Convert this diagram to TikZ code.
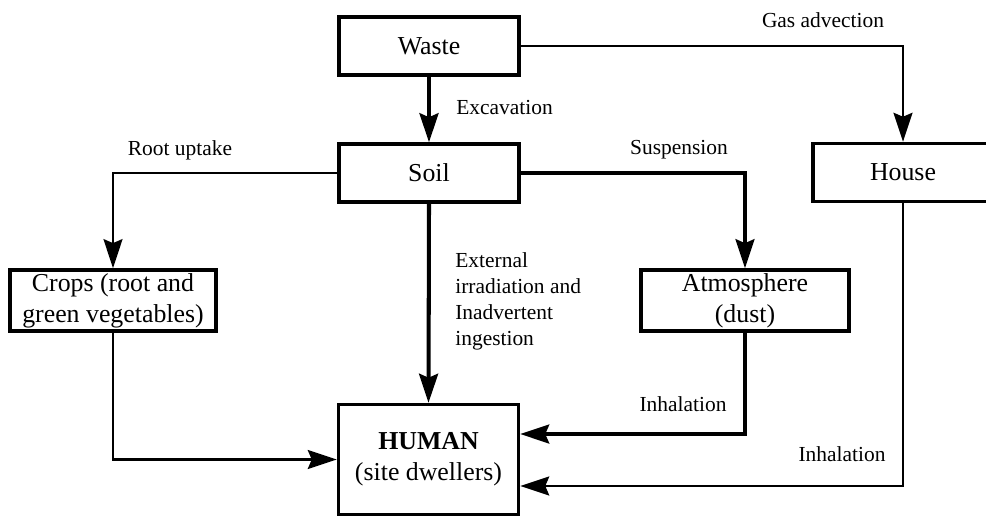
\documentclass[tikz,border=0pt]{standalone}
\usepackage{fontspec}
\setmainfont{Liberation Serif}
\usetikzlibrary{arrows.meta}
\begin{document}
\begin{tikzpicture}[x=0.02cm,y=-0.02cm,
  box/.style={draw, line width=2pt, minimum height=1.16cm, inner sep=2pt, align=center,
    font=\fontsize{14.7}{17.5}\selectfont},
  lbl/.style={inner sep=0pt, align=left, font=\fontsize{12.2}{14.7}\selectfont},
  tip/.style={-{Stealth[length=0.58cm,width=0.38cm,inset=0.08cm]}},
  thinline/.style={line width=1.3pt},
  midline/.style={line width=1.8pt},
  thickline/.style={line width=2.3pt}]
\useasboundingbox (0,0) rectangle (986,518);
\begin{scope}
\clip (0,0) rectangle (986,518);
\node[box, minimum width=3.6cm] (waste) at (429,46) {Waste};
\node[box, minimum width=3.6cm] (soil) at (429,173) {Soil};
\node[box, minimum width=3.6cm] (house) at (903,172.5) {House};
\node[box, minimum width=4.12cm] (crops) at (113,300.5) {Crops (root and\\green vegetables)};
\node[box, minimum width=4.16cm] (atmos) at (745,300.5) {Atmosphere\\(dust)};
\node[box, minimum width=3.6cm, minimum height=2.2cm] (human) at (428.5,459.5) {\textbf{HUMAN}\\(site dwellers)};

\draw[thickline, tip] (waste.south) -- (soil.north);
\draw[thinline, tip] (waste.east) -| (house.north);
\draw[thinline, tip] (soil.west) -| (crops.north);
\draw[midline, tip] (soil.east) -| (atmos.north);
\draw[thickline, tip] (soil.south) -- (human.north);
\draw[thinline, tip] (crops.south) |- (human.west);
\draw[midline, tip] (atmos.south) |- ([yshift=0.51cm]human.east);
\draw[thinline, tip] (house.south) |- ([yshift=-0.53cm]human.east);

\node[lbl] (lgas) at (823,20) {Gas advection};
\node[lbl, anchor=west] (lexc) at (456,108) {Excavation};
\node[lbl] (lroot) at (180,150) {Root uptake};
\node[lbl] (lsus) at (679,150) {Suspension};
\node[lbl, anchor=west] (lext) at (455,301.5) {External\\irradiation and\\Inadvertent\\ingestion};
\node[lbl] (linh1) at (683,404) {Inhalation};
\node[lbl] (linh2) at (842,454) {Inhalation};
\end{scope}
\end{tikzpicture}
\end{document}
